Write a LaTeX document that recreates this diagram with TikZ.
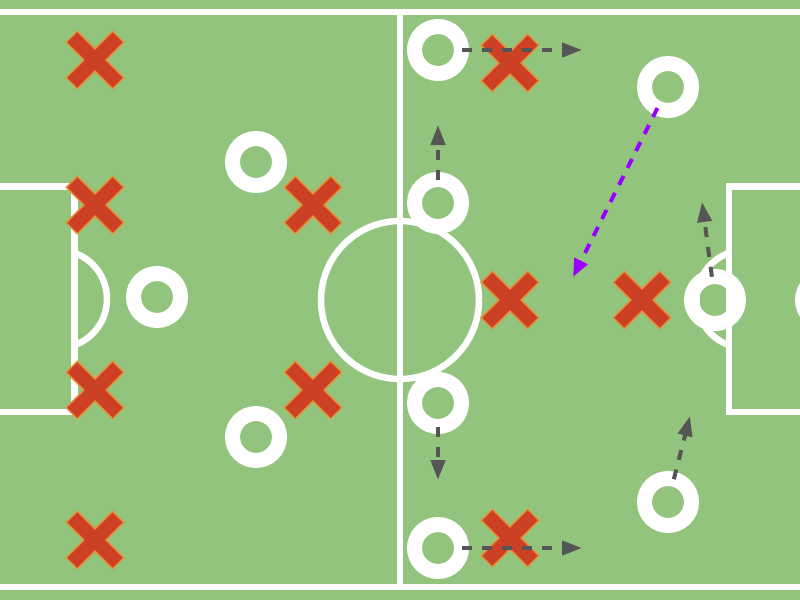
\documentclass[tikz,border=0pt]{standalone}
\usepackage{tikz}
\usetikzlibrary{arrows.meta}
\usetikzlibrary{calc}

\definecolor{pitchGreen}{HTML}{93C47D}
\definecolor{crossRed}{HTML}{CC4125}
\definecolor{crossEdge}{HTML}{E69138}
\definecolor{runGray}{HTML}{555555}
\definecolor{passPurple}{HTML}{9900FF}

\tikzset{
    pitch line/.style={white, line width=6.5pt},
    attacker/.style={circle, draw=white, line width=15pt, minimum size=47pt,
        inner sep=0pt, outer sep=0pt},
    run/.style={runGray, line width=4pt, dash pattern=on 10pt off 10pt,
        -{Triangle[length=20pt, width=14pt]}},
    pass/.style={passPurple, line width=4pt, dash pattern=on 10pt off 9pt,
        -{Triangle[length=18pt, width=14pt]}},
    defender/.pic={
        \foreach \a in {45,-45} {
            \draw [crossEdge, line width=3pt, rotate=\a] (-32,-7) rectangle (32,7);
        }
        \foreach \a in {45,-45} {
            \fill [crossRed, rotate=\a] (-32,-7) rectangle (32,7);
        }
    }
}

\begin{document}
\begin{tikzpicture}[x=1pt, y=-1pt]
    \useasboundingbox (0,0) rectangle (800,600);
    \clip (0,0) rectangle (800,600);
    \fill [pitchGreen] (0,0) rectangle (800,600);

    % Pitch markings
    \draw [pitch line] (-10,12) -- (810,12);
    \draw [pitch line] (-10,587) -- (810,587);
    \draw [pitch line] (400,12) -- (400,587);
    \draw [pitch line] (400,300) circle [radius=79];
    \draw [pitch line] (-10,186.5) -- (74.5,186.5) -- (74.5,412) -- (-10,412);
    \draw [pitch line] (810,186.5) -- (729,186.5) -- (729,412) -- (810,412);
    \begin{scope}
        \clip (74.5,0) rectangle (200,600);
        \draw [pitch line] (58,299) circle [radius=49];
    \end{scope}
    \begin{scope}
        \clip (600,0) rectangle (729,600);
        \draw [pitch line] (745.5,299) circle [radius=49];
    \end{scope}

    % Crosses
    \foreach \p in {{95,60}, {95,205}, {95,390}, {95,540}, {313,205}, {313,390},
                    {510,63}, {510,300}, {642,300}, {510,538}} {
        \pic at (\p) {defender};
    }

    % Rings
    \foreach \n/\p in {BackTop/{256,162}, BackMid/{157,297}, BackBot/{256,437},
                       MidTop/{438,50}, MidUp/{438,203}, MidDown/{438,403},
                       MidBot/{438,548}, FwdTop/{668,87}, FwdMid/{715,300},
                       FwdBot/{668,502}, FwdFar/{826,300}} {
        \node [attacker] (\n) at (\p) {};
    }

    % Run targets
    \coordinate (MidTopEnd)  at (582,50);
    \coordinate (MidBotEnd)  at (582,548);
    \coordinate (MidUpEnd)   at (438,125);
    \coordinate (MidDownEnd) at (438,480);
    \coordinate (FwdMidEnd)  at (702,202);
    \coordinate (FwdBotEnd)  at (690,416);
    \coordinate (PassEnd)    at (573,277);

    % Draw the runs
    \draw [run] (MidTop) -- (MidTopEnd);
    \draw [run] (MidBot) -- (MidBotEnd);
    \draw [run] (MidUp) -- (MidUpEnd);
    \draw [run] (MidDown) -- (MidDownEnd);
    \draw [run] (FwdMid) -- (FwdMidEnd);
    \draw [run] (FwdBot) -- (FwdBotEnd);
    \draw [pass] (FwdTop) -- (PassEnd);
\end{tikzpicture}
\end{document}
